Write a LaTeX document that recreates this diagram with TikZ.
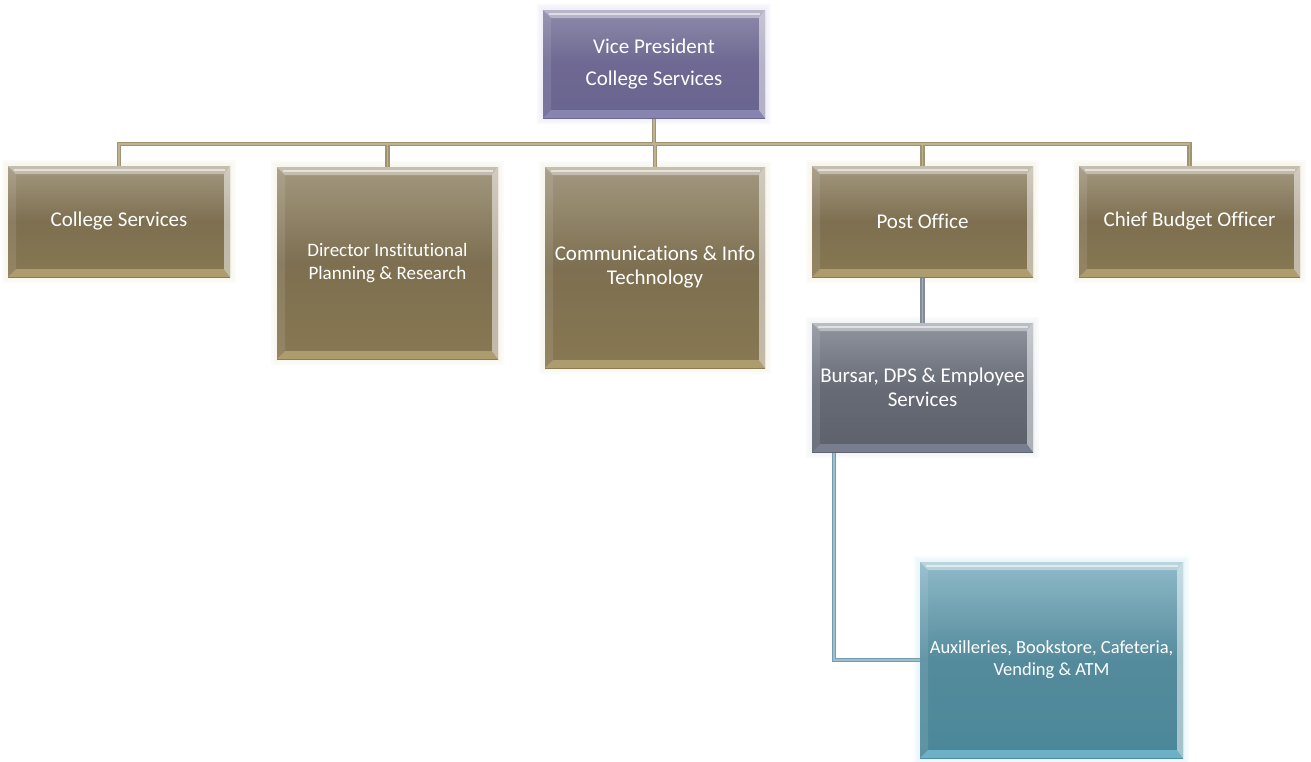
\documentclass[tikz,border=0pt]{standalone}
\usepackage{fontspec}
\setmainfont{Carlito}[Ligatures=NoCommon]
\usetikzlibrary{calc,backgrounds}
\definecolor{vpT}{HTML}{8E8AAA}
\definecolor{vpM}{HTML}{6E6892}
\definecolor{vpB}{HTML}{6A6590}
\definecolor{vpE}{HTML}{8C88B4}
\definecolor{vpG}{HTML}{E4E1F2}
\definecolor{tnT}{HTML}{A39880}
\definecolor{tnM}{HTML}{7D6F50}
\definecolor{tnB}{HTML}{887852}
\definecolor{tnE}{HTML}{B2A272}
\definecolor{tnG}{HTML}{F2EDDD}
\definecolor{gyT}{HTML}{90959E}
\definecolor{gyM}{HTML}{666B76}
\definecolor{gyB}{HTML}{5C616C}
\definecolor{gyE}{HTML}{7C8292}
\definecolor{gyG}{HTML}{E8EAEE}
\definecolor{tlT}{HTML}{8FBAC8}
\definecolor{tlM}{HTML}{548B9C}
\definecolor{tlB}{HTML}{4B8799}
\definecolor{tlE}{HTML}{70B6CB}
\definecolor{tlG}{HTML}{D8EEF5}
\definecolor{busO}{HTML}{A0946F}
\definecolor{busI}{HTML}{BDB291}
\definecolor{grO}{HTML}{838B96}
\definecolor{grI}{HTML}{A9AFB8}
\definecolor{teO}{HTML}{739DAE}
\definecolor{teI}{HTML}{9CC0CD}
\tikzset{
  orgbox/.style n args={4}{rectangle, draw=none, inner sep=0pt, align=center,
    text=white, font=\fontsize{21}{24}\selectfont,
    top color=#1, bottom color=#3, middle color=#2,
    path picture={
      \path (path picture bounding box.north west) coordinate (pnw)
            (path picture bounding box.south east) coordinate (pse);
      \fill[white,opacity=.1] (pnw) -- ($(pnw)+(8pt,-8pt)$) -- ($(pnw |- pse)+(8pt,8pt)$) -- (pnw |- pse) -- cycle;
      \fill[#4,opacity=.9] (pnw |- pse) -- ($(pnw |- pse)+(8pt,8pt)$) -- ($(pse)+(-6pt,8pt)$) -- (pse) -- cycle;
      \fill[white,opacity=.5] (pnw -| pse) -- (pse) -- ($(pse)+(-6pt,8pt)$) -- ($(pnw -| pse)+(-6pt,-8pt)$) -- cycle;
      \fill[white,opacity=.38] (pnw) -- (pnw -| pse) -- ($(pnw -| pse)+(-6pt,-8pt)$) -- ($(pnw)+(8pt,-8pt)$) -- cycle;
      \draw[white,opacity=.55,line width=1.2pt] ($(pnw)+(6pt,-4pt)$) -- ($(pnw -| pse)+(-5pt,-4pt)$);
    }},
  vpbox/.style={orgbox={vpT}{vpM}{vpB}{vpE}, font=\fontsize{21}{32}\selectfont},
  tanbox/.style={orgbox={tnT}{tnM}{tnB}{tnE}},
  graybox/.style={orgbox={gyT}{gyM}{gyB}{gyE}},
  tealbox/.style={orgbox={tlT}{tlM}{tlB}{tlE}, font=\fontsize{18.5}{22}\selectfont},
  glow/.style={fill=#1, opacity=.22}
}
\begin{document}
\begin{tikzpicture}[x=1pt,y=-1pt]
\useasboundingbox (0,0) rectangle (1311,761);
\node[vpbox, minimum width=222pt, minimum height=108pt] (vp) at (654,64) {Vice President\\College Services};
\node[tanbox, minimum width=222pt, minimum height=111pt] (cs) at (119,221.5) {College Services};
\node[tanbox, minimum width=221pt, minimum height=192pt, font=\fontsize{19}{23}\selectfont] (dir) at (387.5,263) {Director Institutional\\Planning \& Research};
\node[tanbox, minimum width=220pt, minimum height=201pt] (com) at (655,267.5) {Communications \& Info\\Technology};
\node[tanbox, minimum width=221pt, minimum height=111pt] (po) at (922.5,221.5) {Post Office};
\node[tanbox, minimum width=221pt, minimum height=111pt] (cbo) at (1189.5,221.5) {Chief Budget Officer};
\node[graybox, minimum width=221pt, minimum height=129pt] (bur) at (922.5,387.5) {Bursar, DPS \& Employee\\Services};
\node[tealbox, minimum width=263pt, minimum height=196pt] (aux) at (1051.5,660) {Auxilleries, Bookstore, Cafeteria,\\Vending \& ATM};
\coordinate (bus) at (654,144);
\begin{scope}[on background layer]
  \foreach \n/\g in {vp/vpG,cs/tnG,dir/tnG,com/tnG,po/tnG,cbo/tnG,bur/gyG,aux/tlG} {
    \foreach \s in {6,4,2} {
      \fill[glow=\g] ($(\n.north west)+(-\s pt,\s pt)$) rectangle ($(\n.south east)+(\s pt,-\s pt)$);
    }
  }
  \foreach \w/\c/\d/\e in {4.2pt/busO/grO/teO, 1.6pt/busI/grI/teI} {
    \draw[line width=\w, draw=\c] (vp.south) -- (bus);
    \draw[line width=\w, draw=\c] (cs.north) -- (cs.north |- bus) -- (cbo.north |- bus) -- (cbo.north);
    \foreach \k in {dir,com,po} { \draw[line width=\w, draw=\c] (\k.north) -- (\k.north |- bus); }
    \draw[line width=\w, draw=\d] (po.south) -- (bur.north);
    \draw[line width=\w, draw=\e] ([xshift=22pt]bur.south west) |- (aux.west);
  }
\end{scope}
\end{tikzpicture}
\end{document}
